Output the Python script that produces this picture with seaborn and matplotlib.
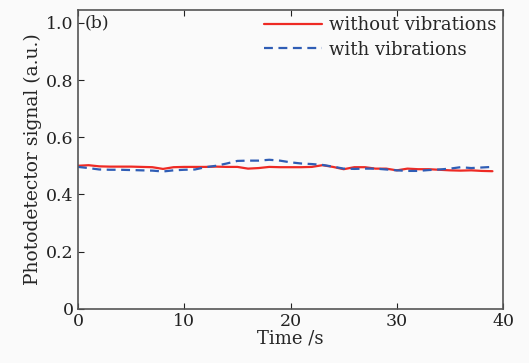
import numpy as np
import pandas as pd
import seaborn as sns
import matplotlib
matplotlib.use("Agg")
import matplotlib.pyplot as plt

time_s = list(range(40))
without_vib = [0.500, 0.502, 0.498, 0.497, 0.497, 0.497, 0.496, 0.495, 0.489, 0.495,
               0.496, 0.496, 0.496, 0.497, 0.496, 0.496, 0.490, 0.492, 0.496, 0.495,
               0.495, 0.495, 0.496, 0.502, 0.496, 0.488, 0.495, 0.495, 0.490, 0.490,
               0.484, 0.490, 0.488, 0.488, 0.486, 0.484, 0.483, 0.484, 0.482, 0.481]
with_vib = [0.496, 0.492, 0.487, 0.486, 0.486, 0.485, 0.484, 0.483, 0.480, 0.484,
            0.486, 0.487, 0.495, 0.500, 0.508, 0.517, 0.518, 0.518, 0.521, 0.518,
            0.512, 0.508, 0.506, 0.503, 0.497, 0.490, 0.489, 0.490, 0.490, 0.487,
            0.484, 0.482, 0.482, 0.485, 0.487, 0.490, 0.495, 0.492, 0.494, 0.496]

df = pd.DataFrame({"t": time_s, "without vibrations": without_vib,
                   "with vibrations": with_vib})
long = df.melt(id_vars="t", var_name="series", value_name="signal")

sns.set_style("ticks")
plt.rcParams['font.family'] = ['DejaVu Serif']
plt.rcParams['mathtext.fontset'] = 'dejavuserif'

fig = plt.figure(figsize=(5.29, 3.63), dpi=100, facecolor="#fafafa")
ax = fig.add_axes([0.1474, 0.1496, 0.8036, 0.8229])
ax.set_facecolor("#fafafa")

sns.lineplot(data=long, x="t", y="signal", hue="series", style="series",
             palette={"without vibrations": "#ee2a24", "with vibrations": "#2f5db5"},
             dashes={"without vibrations": "", "with vibrations": (4, 2.5)},
             linewidth=1.6, ax=ax)

ax.set_xlim(0, 40)
ax.set_ylim(0, 1.045)
ax.set_xticks([0, 10, 20, 30, 40])
ax.set_yticks([0, 0.2, 0.4, 0.6, 0.8, 1.0])
ax.set_yticklabels(["0", "0.2", "0.4", "0.6", "0.8", "1.0"])
ax.tick_params(direction="in", top=True, right=False, length=4, width=0.8,
               labelsize=12.5, colors="#222222", pad=3)
for s in ax.spines.values():
    s.set_color("#555555")
    s.set_linewidth(1.2)

ax.set_xlabel("Time /s", fontsize=13, labelpad=0)
ax.set_ylabel("Photodetector signal (a.u.)", fontsize=13.5, labelpad=3)
ax.text(0.6, 1.0, "(b)", fontsize=12.5, va="center", ha="left")

leg = ax.legend(loc="upper right", frameon=False, fontsize=13, handlelength=3.2,
                borderaxespad=0.15, labelspacing=0.35, handletextpad=0.4,
                borderpad=0.2)
for line in leg.get_lines():
    line.set_linewidth(1.6)

fig.savefig("out.png", dpi=100, facecolor=fig.get_facecolor())
